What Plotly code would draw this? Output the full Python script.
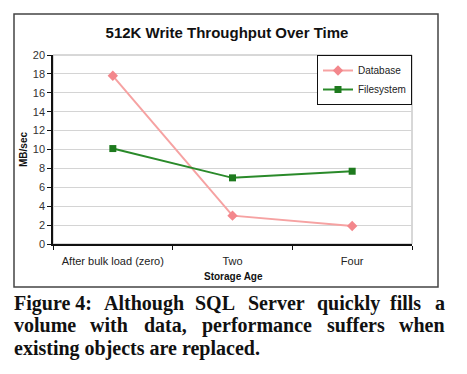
import plotly.graph_objects as go

categories = ["After bulk load (zero)", "Two", "Four"]
database = [17.8, 3.0, 1.9]
filesystem = [10.1, 7.0, 7.7]
y_ticks = list(range(0, 21, 2))

OFF = 8  # page body margin
W, H = 467 - OFF, 374 - OFF
L, R, T, B = 53 - OFF, 412 - OFF, 55 - OFF, 244 - OFF  # plot area in figure pixels

def px(x):
    return (x - OFF - L) / (R - L)

def py(y):
    return (B - (y - OFF)) / (B - T)

fig = go.Figure()
fig.add_trace(go.Scatter(
    x=categories, y=database, name="Database", mode="lines+markers",
    line=dict(color="#f6a2a2", width=2),
    marker=dict(symbol="diamond", size=8, color="#f3878c"),
))
fig.add_trace(go.Scatter(
    x=categories, y=filesystem, name="Filesystem", mode="lines+markers",
    line=dict(color="#2a8a2a", width=2),
    marker=dict(symbol="square", size=7, color="#1e7a1e"),
))

fig.update_layout(
    width=W, height=H,
    margin=dict(l=L, r=W - R, t=T, b=H - B),
    paper_bgcolor="white", plot_bgcolor="white",
    showlegend=True,
    font=dict(family="Liberation Sans, Arial", color="#222", size=10),
    title=dict(text="<b>512K Write Throughput Over Time</b>", x=px(227), xref="paper",
               xanchor="center", y=1 - (33 - OFF) / H, yanchor="middle",
               font=dict(size=15, color="#111")),
    legend=dict(x=1.0, y=1.0, xanchor="right", yanchor="top",
                bordercolor="#111", borderwidth=1, bgcolor="white",
                font=dict(size=10, color="#222"), itemwidth=30,
                tracegroupgap=0),
    xaxis=dict(
        type="category", range=[-0.5, 2.5], showgrid=False,
        showline=True, linecolor="#111", linewidth=1.5,
        ticks="outside", tickcolor="#111", ticklen=4, tickson="boundaries",
        tickfont=dict(size=11, color="#222"), ticklabelstandoff=6,
    ),
    yaxis=dict(
        range=[0, 20], tickvals=y_ticks, showgrid=True, gridcolor="#d4d4d4", gridwidth=1,
        showline=True, linecolor="#111", linewidth=1.5,
        ticks="outside", tickcolor="#111", ticklen=4, zeroline=False,
        tickfont=dict(size=11, color="#333"),
    ),
)

# axis titles
fig.add_annotation(text="<b>Storage Age</b>", xref="paper", yref="paper",
                   x=px(233), y=py(276), xanchor="center", yanchor="middle",
                   showarrow=False, font=dict(size=10, color="#111"))
fig.add_annotation(text="<b>MB/sec</b>", xref="paper", yref="paper",
                   x=px(23), y=py(150), xanchor="center", yanchor="middle",
                   textangle=-90, showarrow=False, font=dict(size=10, color="#111"))

# gray plot-area frame (top/right)
fig.add_shape(type="rect", xref="paper", yref="paper", x0=0, x1=1, y0=0, y1=1,
              line=dict(color="#b0b0b0", width=1), layer="below")
# outer chart box
fig.add_shape(type="rect", xref="paper", yref="paper",
              x0=px(14), x1=px(438), y0=py(287), y1=py(14),
              line=dict(color="#444", width=1.5))

cap_font = dict(family="Liberation Serif, Times New Roman", size=20, color="#111")
line1 = [("Figure 4:", 12), ("Although", 102), ("SQL", 193), ("Server", 246),
         ("quickly", 315), ("fills", 388), ("a", 433)]
line2 = [("volume", 12), ("with", 88), ("data,", 142), ("performance", 200),
         ("suffers", 325), ("when", 397)]
for words, yy in [(line1, 303), (line2, 325)]:
    for w, xx in words:
        fig.add_annotation(text=f"<b>{w}</b>", xref="paper", yref="paper",
                           x=px(xx), y=py(yy), xanchor="left", yanchor="middle",
                           showarrow=False, font=cap_font)
fig.add_annotation(text="<b>existing objects are replaced.</b>", xref="paper", yref="paper",
                   x=px(12), y=py(348), xanchor="left", yanchor="middle",
                   showarrow=False, font=cap_font)

fig.write_html("out.html")
